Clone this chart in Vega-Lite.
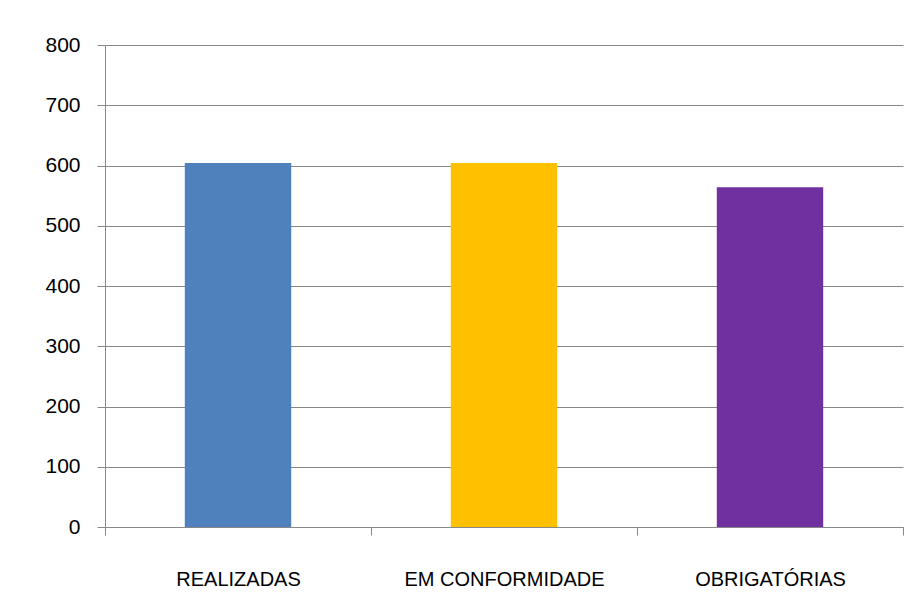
{
  "$schema": "https://vega.github.io/schema/vega-lite/v6.json",
  "autosize": {"type": "none"},
  "padding": {"left": 105, "top": 45, "right": 12, "bottom": 89},
  "width": 798,
  "height": 482,
  "background": "white",
  "data": {"values": [
    {"categoria": "REALIZADAS", "valor": 604},
    {"categoria": "EM CONFORMIDADE", "valor": 604},
    {"categoria": "OBRIGATÓRIAS", "valor": 564}
  ]},
  "mark": {"type": "bar", "width": {"band": 0.4}},
  "encoding": {
    "x": {
      "field": "categoria", "type": "nominal", "sort": null,
      "scale": {"paddingInner": 0, "paddingOuter": 0},
      "axis": {
        "title": null, "labelAngle": 0, "tickBand": "extent", "tickSize": 8,
        "tickColor": "#888888", "domainColor": "#888888", "labelPadding": 34,
        "labelFont": "Liberation Sans", "labelFontSize": 20, "labelColor": "#000000",
        "labelLimit": 400
      }
    },
    "y": {
      "field": "valor", "type": "quantitative",
      "scale": {"domain": [0, 800]},
      "axis": {
        "title": null, "values": [0, 100, 200, 300, 400, 500, 600, 700, 800],
        "grid": true, "gridColor": "#888888", "gridWidth": 1, "tickColor": "#888888",
        "tickSize": 8, "domainColor": "#888888", "labelPadding": 17,
        "labelFont": "Liberation Sans", "labelFontSize": 21, "labelColor": "#000000"
      }
    },
    "color": {
      "field": "categoria", "type": "nominal", "sort": null, "legend": null,
      "scale": {"domain": ["REALIZADAS", "EM CONFORMIDADE", "OBRIGATÓRIAS"], "range": ["#4F81BD", "#FFC000", "#7030A0"]}
    }
  },
  "config": {"view": {"stroke": null}}
}
